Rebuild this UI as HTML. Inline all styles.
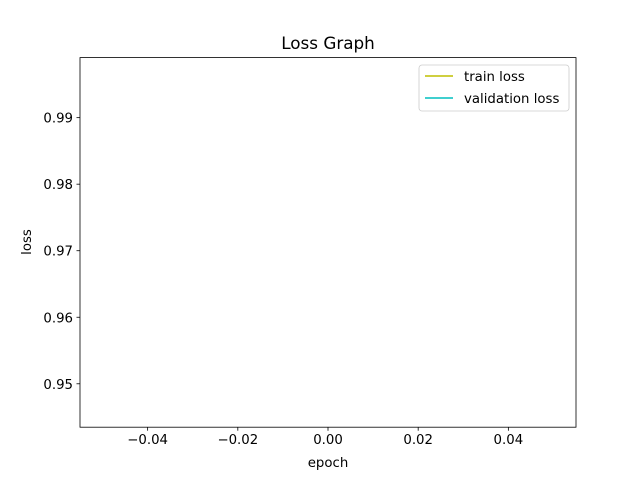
<!DOCTYPE html>
<html><head><meta charset="utf-8"><style>
body{margin:0;background:#fff}
svg text{font-family:"DejaVu Sans","Liberation Sans",sans-serif;fill:#000}
</style></head><body>
<svg id="chart" width="640" height="480" xmlns="http://www.w3.org/2000/svg">
<rect width="640" height="480" fill="#fff"/>
<text x="328" y="49" font-size="16.8" text-anchor="middle">Loss Graph</text>
<g id="xt"></g><g id="yt"></g><g id="series"></g>
<rect x="80" y="57.6" width="496" height="369.6" fill="none" stroke="#000" stroke-width="0.8"/>
<text x="328" y="467" font-size="13.3" text-anchor="middle">epoch</text>
<text transform="translate(31,242) rotate(-90)" font-size="13.3" text-anchor="middle">loss</text>
<g>
<rect x="419" y="65" width="150" height="46" rx="3" fill="#fff" fill-opacity="0.8" stroke="#ccc" stroke-width="0.8"/>
<line x1="425" y1="76" x2="453" y2="76" stroke="#bfbf00" stroke-width="1.5"/>
<text x="464" y="81" font-size="13.3">train loss</text>
<line x1="425" y1="98" x2="453" y2="98" stroke="#00bfbf" stroke-width="1.5"/>
<text x="464" y="103" font-size="13.3">validation loss</text>
</g>
</svg>
<script>
const epochs=[0];
const trainLoss=[0.9965];
const valLoss=[0.946];
const xTicks=[-0.04,-0.02,0.00,0.02,0.04];
const xTickLabels=["−0.04","−0.02","0.00","0.02","0.04"];
const yTicks=[0.95,0.96,0.97,0.98,0.99];
const yTickLabels=["0.95","0.96","0.97","0.98","0.99"];
const L=80,R=576,T=57.6,B=427.2,NS="http://www.w3.org/2000/svg";
let xmin=Math.min(...epochs),xmax=Math.max(...epochs);
if(xmin===xmax){xmin-=0.055;xmax+=0.055;}
const all=trainLoss.concat(valLoss);let ymin=Math.min(...all),ymax=Math.max(...all);
let r=ymax-ymin||0.1;ymin-=0.05*r;ymax+=0.05*r;
const X=v=>L+(v-xmin)/(xmax-xmin)*(R-L);
const Y=v=>B-(v-ymin)/(ymax-ymin)*(B-T);
function mk(t,a,p){const e=document.createElementNS(NS,t);for(const k in a)e.setAttribute(k,a[k]);p.appendChild(e);return e;}
const xt=document.getElementById('xt'),yt=document.getElementById('yt'),sg=document.getElementById('series');
xTicks.forEach((v,i)=>{const x=X(v);
const l=mk('line',{x1:x,x2:x,y1:B,y2:B+3.5,stroke:'#000','stroke-width':0.8},xt);


const t=mk('text',{x:x,y:B+17,'font-size':13.3,'text-anchor':'middle'},xt);t.textContent=xTickLabels[i];

});
yTicks.forEach((v,i)=>{const y=Y(v);
const l=mk('line',{x1:L-3.5,x2:L,y1:y,y2:y,stroke:'#000','stroke-width':0.8},yt);


const t=mk('text',{x:L-7,y:y+5,'font-size':13.3,'text-anchor':'end'},yt);t.textContent=yTickLabels[i];

});
function line(vals,color,name){const pts=epochs.map((e,i)=>X(e)+','+Y(vals[i])).join(' ');
const p=mk('polyline',{points:pts,fill:'none',stroke:color,'stroke-width':1.5},sg);

}
line(trainLoss,'#bfbf00','train-loss-line');
line(valLoss,'#00bfbf','validation-loss-line');
</script>
</body></html>
